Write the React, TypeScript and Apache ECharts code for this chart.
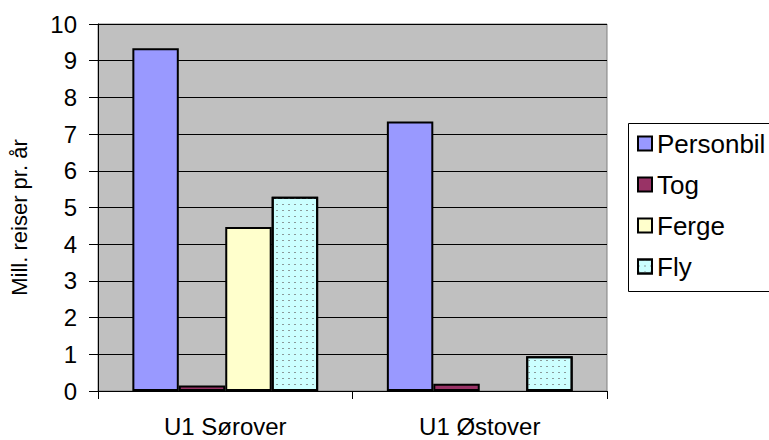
import React, { useEffect, useRef } from "react";
import * as echarts from "echarts";

const categories = ["U1 Sørover", "U1 Østover"];
const personbil = [9.34, 7.34];
const tog = [0.15, 0.2];
const ferge: (number | null)[] = [4.47, null];
const fly = [5.29, 0.95];
const yTicks = { min: 0, max: 10, interval: 1 };

const FONT = "Liberation Sans";

export default function App() {
  const ref = useRef<HTMLDivElement>(null);
  useEffect(() => {
    if (!ref.current) return;
    const chart = echarts.init(ref.current, null, { renderer: "svg" });
    const border = { borderColor: "#000", borderWidth: 2 };
    chart.setOption({
      animation: false,
      backgroundColor: "#fff",
      textStyle: { fontFamily: FONT },
      grid: {
        left: 95,
        right: 193,
        top: 24,
        bottom: 49,
        show: true,
        backgroundColor: "#C0C0C0",
        borderColor: "#808080",
        borderWidth: 1,
      },
      graphic: [
        {
          type: "rect",
          z: 1,
          shape: { x: 628.5, y: 123.5, width: 200, height: 168 },
          style: { fill: "#fff", stroke: "#000", lineWidth: 1 },
          silent: true,
        },
      ],
      legend: {
        orient: "vertical",
        left: 628,
        top: 123,
        padding: [7, 0, 10, 9],
        itemGap: 14,
        itemWidth: 14,
        itemHeight: 14,
        itemTextGap: 10,
        icon: "rect",
        textStyle: { fontFamily: FONT, fontSize: 26, color: "#000", lineHeight: 27 },
        data: ["Personbil", "Tog", "Ferge", "Fly"],
      },
      xAxis: {
        type: "category",
        data: categories,
        axisLine: { lineStyle: { color: "#000", width: 1 } },
        axisTick: { show: true, length: 8, lineStyle: { color: "#000" } },
        axisLabel: { fontFamily: FONT, fontSize: 24, color: "#000", margin: 23 },
      },
      yAxis: {
        type: "value",
        min: yTicks.min,
        max: yTicks.max,
        interval: yTicks.interval,
        name: "Mill. reiser pr. år",
        nameLocation: "middle",
        nameGap: 68,
        nameTextStyle: { fontFamily: FONT, fontSize: 22, color: "#000", padding: [0, 20, 0, 0] },
        axisLine: { show: true, lineStyle: { color: "#000", width: 1 } },
        axisTick: { show: true, length: 9, lineStyle: { color: "#000" } },
        axisLabel: { fontFamily: FONT, fontSize: 24, color: "#000", margin: 21 },
        splitLine: { show: true, lineStyle: { color: "#000", width: 1 } },
      },
      series: [
        {
          name: "Personbil",
          type: "bar",
          data: personbil,
          barGap: "0%",
          barCategoryGap: "27%",
          itemStyle: { color: "#9999FF", ...border },
        },
        {
          name: "Tog",
          type: "bar",
          data: tog,
          itemStyle: { color: "#993366", ...border },
        },
        {
          name: "Ferge",
          type: "bar",
          data: ferge,
          itemStyle: { color: "#FFFFCC", ...border },
        },
        {
          name: "Fly",
          type: "bar",
          data: fly,
          itemStyle: {
            color: "#CCFFFF",
            ...border,
            decal: {
              symbol: "rect",
              symbolSize: 1,
              dashArrayX: [2, 4],
              dashArrayY: [1, 5],
              color: "#8a9a9a",
              rotation: 0,
            },
          },
        },
      ],
    });
    return () => chart.dispose();
  }, []);
  return (
    <div style={{ width: 769, height: 440, position: "absolute", left: 0, top: 0, overflow: "hidden" }}>
      <div ref={ref} style={{ width: 800, height: 440 }} />
    </div>
  );
}
